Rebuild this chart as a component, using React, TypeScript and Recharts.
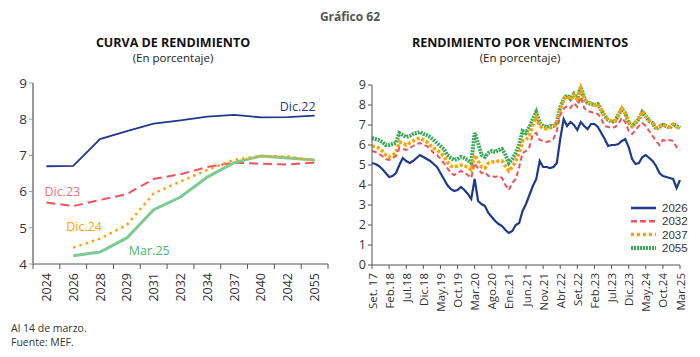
import React from 'react'
import { LineChart, Line, XAxis, YAxis, LabelList } from 'recharts'

// Curva de rendimiento (por año de vencimiento)
const plazos = ['2024', '2026', '2028', '2029', '2031', '2032', '2034', '2037', '2040', '2042', '2055']
const curvaDic22 = [6.7, 6.71, 7.45, 7.67, 7.88, 7.97, 8.07, 8.12, 8.05, 8.06, 8.1]
const curvaDic23 = [5.7, 5.6, 5.77, 5.93, 6.35, 6.48, 6.68, 6.8, 6.77, 6.75, 6.8]
const curvaDic24 = [null, 4.45, 4.7, 5.08, 5.95, 6.28, 6.6, 6.88, 6.98, 6.97, 6.85]
const curvaMar25 = [null, 4.23, 4.33, 4.72, 5.5, 5.85, 6.4, 6.8, 6.98, 6.93, 6.87]

// Rendimiento por vencimientos, mensual de set.17 a mar.25
const mesesTicks = [
  'Set. 17', 'Feb.18', 'Jul.18', 'Dic.18', 'May.19', 'Oct.19', 'Mar.20', 'Ago.20', 'Ene.21', 'Jun.21',
  'Nov.21', 'Abr.22', 'Set.22', 'Feb.23', 'Jul.23', 'Dic.23', 'May.24', 'Oct.24', 'Mar.25'
]
const rend2026 = [
  5.1, 5.05, 4.95, 4.8, 4.6, 4.4, 4.45, 4.6, 5.0, 5.35,
  5.2, 5.1, 5.2, 5.35, 5.5, 5.4, 5.3, 5.2, 5.05, 4.9,
  4.6, 4.3, 4.0, 3.8, 3.7, 3.75, 3.9, 3.75, 3.55, 3.3,
  4.3, 3.2, 3.05, 2.95, 2.6, 2.4, 2.2, 2.05, 1.95, 1.75,
  1.6, 1.7, 2.0, 2.1, 2.7, 3.05, 3.5, 3.95, 4.3, 5.2,
  4.9, 4.9, 4.85, 4.9, 5.1, 6.3, 7.3, 6.95, 7.15, 7.0,
  6.75, 7.15, 6.95, 6.8, 7.05, 7.05, 6.9, 6.6, 6.3, 5.95,
  6.0, 6.0, 6.05, 6.2, 6.3, 5.9, 5.3, 5.05, 5.1, 5.4,
  5.5, 5.35, 5.2, 4.95, 4.6, 4.45, 4.4, 4.35, 4.3, 3.85,
  4.25
]
const rend2032 = [
  5.7, 5.65, 5.55, 5.45, 5.3, 5.25, 5.35, 5.45, 5.85, 5.8,
  5.75, 5.85, 5.95, 6.05, 6.1, 6.0, 5.95, 5.8, 5.6, 5.5,
  5.3, 5.1, 4.85, 4.6, 4.5, 4.6, 4.7, 4.6, 4.5, 4.35,
  5.1, 4.8, 4.6, 4.65, 4.45, 4.45, 4.4, 4.45, 4.35, 4.0,
  3.75, 4.1, 4.3, 4.9, 5.6, 5.7, 5.9, 6.55, 6.6, 6.25,
  6.2, 6.15, 6.2, 6.3, 6.7, 7.5, 7.8, 7.95, 7.85, 8.1,
  7.9, 8.4, 7.85, 7.7, 7.65, 7.6, 7.55, 7.3, 6.95, 6.9,
  6.85, 6.9, 7.05, 7.35, 7.15, 6.7, 6.55, 6.75, 6.95, 7.1,
  6.95, 6.7, 6.45, 6.2, 6.0, 6.25, 6.2, 6.25, 6.2, 5.9,
  5.75
]
const rend2037 = [
  5.95, 5.9, 5.85, 5.7, 5.5, 5.4, 5.5, 5.6, 6.15, 6.1,
  6.0, 6.1, 6.2, 6.3, 6.35, 6.25, 6.15, 6.0, 5.85, 5.75,
  5.6, 5.45, 5.15, 4.95, 4.9, 4.95, 5.0, 4.95, 4.9, 4.75,
  5.5, 5.2, 4.9, 4.85, 5.1, 5.15, 5.15, 5.2, 5.2, 4.95,
  4.7, 4.9, 5.2, 5.6, 6.2, 6.25, 6.5, 7.0, 7.4, 6.95,
  6.85, 6.8, 6.85, 6.9, 7.05, 7.8, 8.25, 8.45, 8.25, 8.5,
  8.3, 8.85, 8.3, 8.15, 8.1, 8.0, 8.05, 7.75, 7.45, 7.25,
  7.2, 7.2, 7.5, 7.85, 7.6, 7.15, 6.95, 7.15, 7.35, 7.7,
  7.45, 7.25, 7.1, 6.85, 6.95, 7.05, 6.95, 6.9, 7.05, 6.9,
  6.8
]
const rend2055 = [
  6.35, 6.3, 6.25, 6.15, 6.0, 6.0, 6.05, 6.1, 6.6, 6.5,
  6.4, 6.45, 6.55, 6.6, 6.65, 6.55, 6.5, 6.4, 6.25, 6.1,
  5.95, 5.8, 5.5, 5.35, 5.25, 5.3, 5.4, 5.35, 5.25, 5.1,
  6.6, 6.1, 5.5, 5.4, 5.6, 5.7, 5.65, 5.75, 5.8, 5.5,
  5.1, 5.3, 5.6, 6.0, 6.7, 6.6, 6.9, 7.3, 7.65, 7.1,
  6.95, 6.9, 6.95, 6.95, 7.1, 7.9, 8.3, 8.5, 8.3, 8.55,
  8.3, 8.9, 8.3, 8.1, 8.05, 8.0, 8.05, 7.75, 7.45, 7.25,
  7.15, 7.2, 7.5, 7.8, 7.6, 7.1, 6.95, 7.1, 7.3, 7.65,
  7.45, 7.2, 7.1, 6.8, 6.9, 7.0, 6.95, 6.85, 7.05, 6.95,
  6.85
]

const FONT = '"Open Sans", "DejaVu Sans", sans-serif'
const AZUL = '#1f3a8c'
const ROJO = '#f0535c'
const NARANJA = '#ffa200'
const VERDE_CLARO = '#7dca92'
const VERDE = '#3aaa58'

const LEFT_PLOT_W = 295
const BAND = LEFT_PLOT_W / plazos.length

const curvaData = plazos.map((p, i) => ({
  idx: i,
  dic22: curvaDic22[i],
  dic23: curvaDic23[i],
  dic24: curvaDic24[i],
  mar25: curvaMar25[i]
}))

const rendData = rend2026.map((v, i) => ({
  m: i,
  s2026: v,
  s2032: rend2032[i],
  s2037: rend2037[i],
  s2055: rend2055[i]
}))

function TickPlazo(props: any) {
  const { x, y, payload } = props
  const i = payload.value as number
  return (
    <g>
      <line x1={x - BAND / 2} y1={y} x2={x - BAND / 2} y2={y + 5} stroke="#555" />
      {i === plazos.length - 1 && (
        <line x1={x + BAND / 2} y1={y} x2={x + BAND / 2} y2={y + 5} stroke="#555" />
      )}
      <text
        x={x}
        y={y + 9}
        transform={`rotate(-90 ${x} ${y + 9})`}
        textAnchor="end"
        dominantBaseline="central"
        fontSize={12.5}
        fill="#333"
        fontFamily={FONT}
      >
        {plazos[i]}
      </text>
    </g>
  )
}

function TickMes(props: any) {
  const { x, y, payload } = props
  const label = mesesTicks[Math.round(payload.value / 5)]
  return (
    <text
      x={x}
      y={y + 2}
      transform={`rotate(-90 ${x} ${y + 2})`}
      textAnchor="end"
      dominantBaseline="central"
      fontSize={11.5}
      fill="#333"
      fontFamily={FONT}
    >
      {label}
    </text>
  )
}

function etiqueta(texto: string, idx: number, color: string, dx: number, dy: number, anchor: string) {
  return (props: any) => {
    if (props.index !== idx) return null
    return (
      <text
        x={props.x + dx}
        y={props.y + dy}
        textAnchor={anchor}
        fontSize={12.5}
        fill={color}
        fontFamily={FONT}
      >
        {texto}
      </text>
    )
  }
}

const leyenda = [
  { nombre: '2026', color: AZUL, dash: undefined, width: 2.5 },
  { nombre: '2032', color: ROJO, dash: '6 3', width: 2.5 },
  { nombre: '2037', color: NARANJA, dash: '3 3', width: 3.5 },
  { nombre: '2055', color: VERDE, dash: '2 1', width: 4 }
]

export default function App() {
  return (
    <div style={{ position: 'absolute', left: 0, top: 0, width: 700, height: 357, background: '#fff', fontFamily: FONT }}>
      <div style={{ position: 'absolute', left: 0, width: 700, top: 8, textAlign: 'center', fontSize: 12, fontWeight: 700, color: '#555' }}>
        Gráfico 62
      </div>

      <div style={{ position: 'absolute', left: 73, width: 200, top: 34, textAlign: 'center', fontSize: 12.5, fontWeight: 700, color: '#111' }}>
        CURVA DE RENDIMIENTO
      </div>
      <div style={{ position: 'absolute', left: 73, width: 200, top: 50, textAlign: 'center', fontSize: 11.5, color: '#222' }}>
        (En porcentaje)
      </div>

      <div style={{ position: 'absolute', left: 380, width: 280, top: 34, textAlign: 'center', fontSize: 12.5, fontWeight: 700, color: '#111' }}>
        RENDIMIENTO POR VENCIMIENTOS
      </div>
      <div style={{ position: 'absolute', left: 380, width: 280, top: 50, textAlign: 'center', fontSize: 11.5, color: '#222' }}>
        (En porcentaje)
      </div>

      <div style={{ position: 'absolute', left: 0, top: 0 }}>
        <LineChart width={340} height={320} data={curvaData} margin={{ top: 83, right: 12, left: 0, bottom: 0 }}>
          <XAxis
            dataKey="idx"
            type="number"
            domain={[-0.5, plazos.length - 0.5]}
            ticks={plazos.map((_, i) => i)}
            tickLine={false}
            tickSize={0}
            tickMargin={0}
            height={56}
            axisLine={{ stroke: '#555' }}
            tick={<TickPlazo />}
            interval={0}
          />
          <YAxis
            domain={[4, 9]}
            ticks={[4, 5, 6, 7, 8, 9]}
            interval={0}
            width={33}
            tickSize={4}
            tickLine={{ stroke: '#999' }}
            axisLine={{ stroke: '#999', strokeWidth: 2 }}
            tick={{ fontSize: 13.5, fill: '#333', fontFamily: FONT }}
          />
          <Line dataKey="dic22" stroke={AZUL} strokeWidth={1.8} dot={false} isAnimationActive={false}>
            <LabelList content={etiqueta('Dic.22', 10, AZUL, 1, -5, 'end')} />
          </Line>
          <Line dataKey="dic23" stroke={ROJO} strokeWidth={2} strokeDasharray="9 5" dot={false} isAnimationActive={false}>
            <LabelList content={etiqueta('Dic.23', 0, '#f0707a', -2, -6, 'start')} />
          </Line>
          <Line dataKey="mar25" stroke={VERDE_CLARO} strokeWidth={3} dot={false} isAnimationActive={false}>
            <LabelList content={etiqueta('Mar.25', 3, '#4cb86e', 2, 17, 'start')} />
          </Line>
          <Line dataKey="dic24" stroke={NARANJA} strokeWidth={2.5} strokeDasharray="2.5 4" dot={false} isAnimationActive={false}>
            <LabelList content={etiqueta('Dic.24', 1, NARANJA, -7, -17, 'start')} />
          </Line>
        </LineChart>
      </div>

      <div style={{ position: 'absolute', left: 330, top: 0 }}>
        <LineChart width={360} height={330} data={rendData} margin={{ top: 85, right: 10, left: 0, bottom: 0 }}>
          <XAxis
            dataKey="m"
            type="number"
            domain={[0, 90]}
            ticks={mesesTicks.map((_, i) => i * 5)}
            interval={0}
            tickSize={4}
            tickLine={{ stroke: '#555' }}
            axisLine={{ stroke: '#555' }}
            height={65}
            tick={<TickMes />}
          />
          <YAxis
            domain={[0, 9]}
            ticks={[0, 1, 2, 3, 4, 5, 6, 7, 8, 9]}
            interval={0}
            width={42}
            tickSize={4}
            tickLine={{ stroke: '#555' }}
            axisLine={{ stroke: '#555' }}
            tick={{ fontSize: 12.5, fill: '#333', fontFamily: FONT }}
          />
          <Line dataKey="s2055" stroke={VERDE} strokeWidth={4} strokeDasharray="2 1" dot={false} isAnimationActive={false} />
          <Line dataKey="s2037" stroke={NARANJA} strokeWidth={3.5} strokeDasharray="3 2" dot={false} isAnimationActive={false} />
          <Line dataKey="s2032" stroke={ROJO} strokeWidth={2} strokeDasharray="5 3" dot={false} isAnimationActive={false} />
          <Line dataKey="s2026" stroke={AZUL} strokeWidth={2.2} dot={false} isAnimationActive={false} />
        </LineChart>
      </div>

      <svg style={{ position: 'absolute', left: 628, top: 200 }} width={60} height={56}>
        {leyenda.map((l, i) => (
          <g key={l.nombre}>
            <line x1={3} y1={8 + i * 13.3} x2={28} y2={8 + i * 13.3} stroke={l.color} strokeWidth={l.width} strokeDasharray={l.dash} />
            <text
              x={34}
              y={8 + i * 13.3}
              dominantBaseline="central"
              fontSize={11.5}
              fill="#333"
              fontFamily='"Liberation Sans", Arial, sans-serif'
            >
              {l.nombre}
            </text>
          </g>
        ))}
      </svg>

      <div style={{ position: 'absolute', left: 11, top: 321, fontSize: 10.5, color: '#333', lineHeight: '14px' }}>
        Al 14 de marzo.
        <br />
        Fuente: MEF.
      </div>
    </div>
  )
}
